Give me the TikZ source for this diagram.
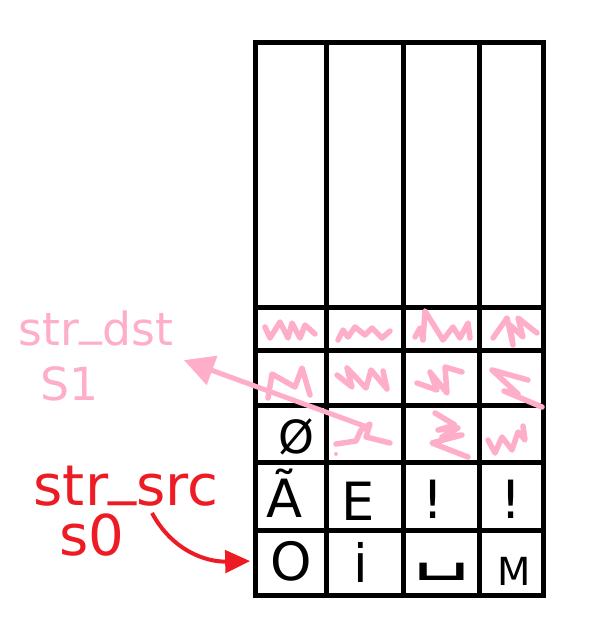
\documentclass[tikz,border=0pt]{standalone}
\usepackage{fontspec}
\setmainfont{DejaVu Sans}
\usepackage{tikz}
\usetikzlibrary{arrows.meta,positioning}
\definecolor{rosepink}{RGB}{255,174,201}
\definecolor{paintred}{RGB}{237,28,36}
\newcommand{\lowbar}{\raisebox{0.22em}{\_}}

\begin{document}
\begin{tikzpicture}[x=0.02cm,y=-0.02cm,
    gridline/.style={line width=0.1cm,draw=black},
    scrib/.style={line width=0.11cm,draw=rosepink,line cap=round,line join=round},
    cell/.style={inner sep=0pt,font=\fontsize{30}{34}\selectfont},
    pinklbl/.style={anchor=base,inner sep=8pt,text=rosepink,font=\fontsize{26}{30}\selectfont},
    redlbl/.style={anchor=base,inner sep=6pt,text=paintred,font=\fontsize{32}{36}\selectfont}]
      \useasboundingbox (0,0) rectangle (607,625);
      % Grid
      \draw[gridline] (255,43) rectangle (543,595);
      \draw[gridline] (326,43) -- (326,595);
      \draw[gridline] (403,43) -- (403,595);
      \draw[gridline] (479,43) -- (479,595);
      \draw[gridline] (255,307) -- (543,307);
      \draw[gridline] (255,350) -- (543,350);
      \draw[gridline] (255,405) -- (543,405);
      \draw[gridline] (255,462) -- (543,462);
      \draw[gridline] (255,530) -- (543,530);
      % Garbage bytes
      \draw[scrib] (265,327) -- (270,338) -- (280,322) -- (288,338) -- (292,323) -- (300,338) -- (305,325) -- (315,334);
      \draw[scrib] (338,340) -- (343,330) -- (348,337) -- (355,327) -- (365,335) -- (372,328) -- (382,338) -- (390,331);
      \draw[scrib] (415,337) -- (420,328) -- (423,340) -- (425,311) -- (443,340) -- (453,327) -- (460,338) -- (468,323) -- (470,338);
      \draw[scrib] (493,338) -- (507,318) -- (513,345) -- (510,325) -- (523,337) -- (518,318) -- (537,333);
      \draw[scrib] (268,398) -- (272,374) -- (295,387) -- (302,368) -- (310,395);
      \draw[scrib] (337,375) -- (352,387) -- (347,368) -- (366,388) -- (371,370) -- (387,389) -- (383,371);
      \draw[scrib] (417,383) -- (437,390) -- (430,372) -- (447,393) -- (445,367) -- (462,372);
      \draw[scrib] (528,380) -- (492,370) -- (518,394) -- (504,391) -- (542,407);
      \draw[scrib] (336,444) -- (356,441) -- (361,430) -- (370,424) -- (366,437) -- (390,443);
      \fill[rosepink] (336,454) circle (2);
      \draw[scrib] (435,413) -- (455,425) -- (438,430) -- (458,428) -- (442,437) -- (462,435) -- (432,443) -- (468,457);
      \draw[scrib] (488,440) -- (495,453) -- (502,437) -- (512,450) -- (518,432) -- (525,440) -- (523,426);
      % Bytes
      \node[cell,font=\fontsize{26}{30}\selectfont] (r4c1) at (296,437) {Ø};
      \node[cell] (r5c1) at (285,493) {Ã};
      \node[cell] (r5c2) at (358,501) {E};
      \node[cell] (r5c3) at (433,499) {!};
      \node[cell] (r5c4) at (511,499) {!};
      \node[cell,minimum width=1.42cm] (r6c1) at (291,561) {O};
      \node[cell] (r6c2) at (361,562) {i};
      \node[cell] (r6c3) at (442,572) {\scalebox{1.7}[1]{␣}};
      \node[cell,font=\fontsize{22}{26}\selectfont] (r6c4) at (514,571) {M};
      % Labels
      \node[pinklbl] (dst) at (96,345) {str\lowbar dst};
      \node[pinklbl] (dstid) at (70,400) {S1};
      \node[redlbl] (src) at (126,505) {str\lowbar src};
      \node[redlbl] (srcid) at (92,555) {s0};
      % Pointers
      \coordinate (dsttail) at (367,427);
      \coordinate (srctail) at (152,513);
      \draw[line width=0.1cm,draw=rosepink,-{Triangle[length=0.6cm,width=0.6cm]}] (dsttail) -- (dst);
      \draw[line width=0.08cm,draw=paintred,shorten >=0.1cm,-{Triangle[length=0.5cm,width=0.45cm]}] (srctail) .. controls (172,550) and (205,562) .. (r6c1.west);
    \end{tikzpicture}
\end{document}
